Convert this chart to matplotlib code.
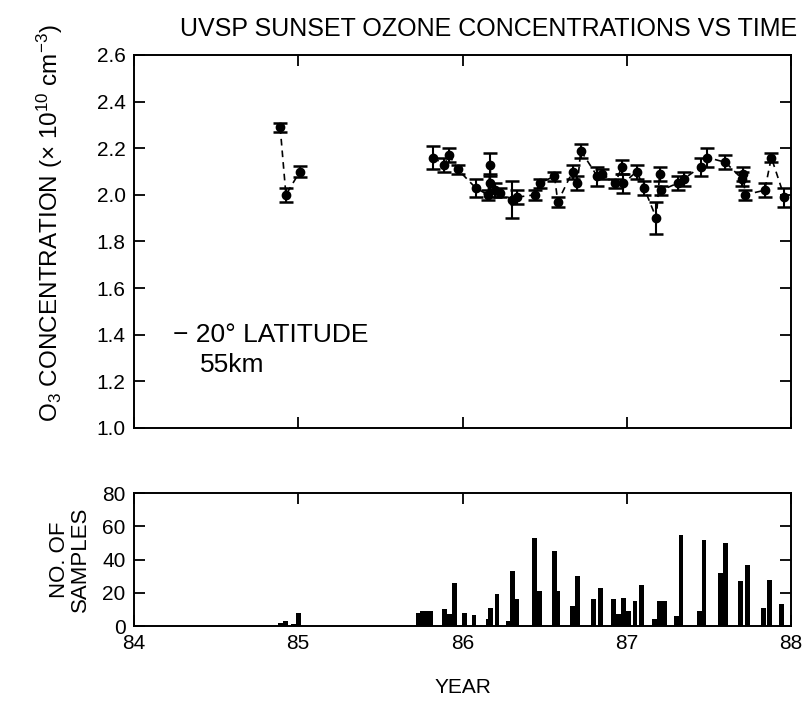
import numpy as np
import matplotlib.pyplot as plt

plt.rcParams['font.family'] = ['Liberation Sans', 'DejaVu Sans']
plt.rcParams['mathtext.fontset'] = 'custom'
plt.rcParams['mathtext.rm'] = 'Liberation Sans'
plt.rcParams['mathtext.it'] = 'Liberation Sans'

# ozone at 55 km, -20 deg latitude (x 10^10 cm^-3)
early_year = [84.89, 84.925, 85.01]
early_o3 = [2.29, 2.00, 2.10]
early_err = [0.02, 0.03, 0.025]

late_year = [85.82, 85.89, 85.92, 85.97, 86.08, 86.155, 86.17, 86.17, 86.20, 86.23,
             86.30, 86.33, 86.44, 86.47, 86.56, 86.58, 86.67, 86.70, 86.72, 86.82,
             86.85, 86.93, 86.97, 86.98, 87.06, 87.105, 87.18, 87.20, 87.21, 87.31,
             87.35, 87.45, 87.49, 87.60, 87.70, 87.71, 87.72, 87.84, 87.88, 87.96]
late_o3 = [2.16, 2.13, 2.17, 2.11, 2.03, 2.00, 2.13, 2.05, 2.02, 2.01,
           1.98, 1.99, 2.00, 2.05, 2.08, 1.97, 2.10, 2.05, 2.19, 2.08,
           2.09, 2.05, 2.12, 2.05, 2.10, 2.03, 1.90, 2.09, 2.02, 2.05,
           2.07, 2.12, 2.16, 2.14, 2.07, 2.09, 2.00, 2.02, 2.16, 1.99]
late_err = [0.05, 0.03, 0.03, 0.02, 0.04, 0.02, 0.05, 0.04, 0.03, 0.02,
            0.08, 0.03, 0.02, 0.02, 0.02, 0.02, 0.03, 0.03, 0.03, 0.04,
            0.02, 0.02, 0.03, 0.04, 0.03, 0.03, 0.07, 0.03, 0.02, 0.03,
            0.03, 0.04, 0.04, 0.03, 0.03, 0.03, 0.02, 0.03, 0.02, 0.04]

# number of samples per event
sample_year = [84.89, 84.92, 84.97, 85.00,
               85.73, 85.755, 85.78, 85.805, 85.89, 85.92, 85.95, 86.01, 86.07,
               86.155, 86.17, 86.21, 86.28, 86.305, 86.33, 86.44, 86.47, 86.56,
               86.58, 86.67, 86.70, 86.80, 86.84, 86.92, 86.95, 86.98, 87.01,
               87.05, 87.09, 87.17, 87.20, 87.23, 87.30, 87.33, 87.44, 87.47,
               87.57, 87.60, 87.69, 87.735, 87.83, 87.87, 87.94]
sample_n = [2, 3, 1.5, 8,
            8, 9, 9, 9, 10.5, 7.5, 26, 8, 6.5,
            4.5, 11, 19, 3, 33, 16, 53, 21, 45,
            21, 12, 30, 16, 23, 16, 7, 17, 9,
            15, 25, 4, 15, 15, 6, 55, 9, 52,
            32, 50, 27, 37, 11, 28, 13]

fig = plt.figure(figsize=(8.09, 7.03), dpi=100)
ax = fig.add_axes([0.1656, 0.3912, 0.8122, 0.5306])
axn = fig.add_axes([0.1656, 0.1095, 0.8122, 0.189])

for yr, o3, err in [(early_year, early_o3, early_err), (late_year, late_o3, late_err)]:
    ax.errorbar(yr, o3, yerr=err, fmt='o', color='black', ms=6, capsize=5,
                elinewidth=1.5, capthick=1.8, ls=(0, (4, 3)), lw=1.2)

ax.set_xlim(84, 88)
ax.set_ylim(1.0, 2.6)
ax.set_yticks(np.arange(1.0, 2.61, 0.2))
ax.set_xticks([84, 85, 86, 87, 88])
ax.set_xticklabels([])
ax.set_ylabel('O$_3$ CONCENTRATION (× 10$^{10}$ cm$^{-3}$)', fontsize=17.5)
ax.yaxis.set_label_coords(-0.105, 0.55)
ax.set_title('UVSP SUNSET OZONE CONCENTRATIONS VS TIME', fontsize=18, pad=14, x=0.54)
ax.text(84.24, 1.40, '− 20° LATITUDE', fontsize=19, va='center')
ax.text(84.40, 1.27, '55km', fontsize=19, va='center')

axn.bar(sample_year, sample_n, width=0.03, color='black')
axn.set_xlim(84, 88)
axn.set_ylim(0, 80)
axn.set_yticks([0, 20, 40, 60, 80])
axn.set_xticks([84, 85, 86, 87, 88])
axn.set_ylabel('NO. OF\nSAMPLES', fontsize=16, labelpad=8, linespacing=1.0)
axn.set_xlabel('YEAR', fontsize=15, labelpad=18)

for a in (ax, axn):
    a.tick_params(direction='in', length=8, width=1.3, top=True, right=True,
                  labelsize=15, pad=6)
    for s in a.spines.values():
        s.set_linewidth(1.4)

fig.savefig('out.png', dpi=100)
